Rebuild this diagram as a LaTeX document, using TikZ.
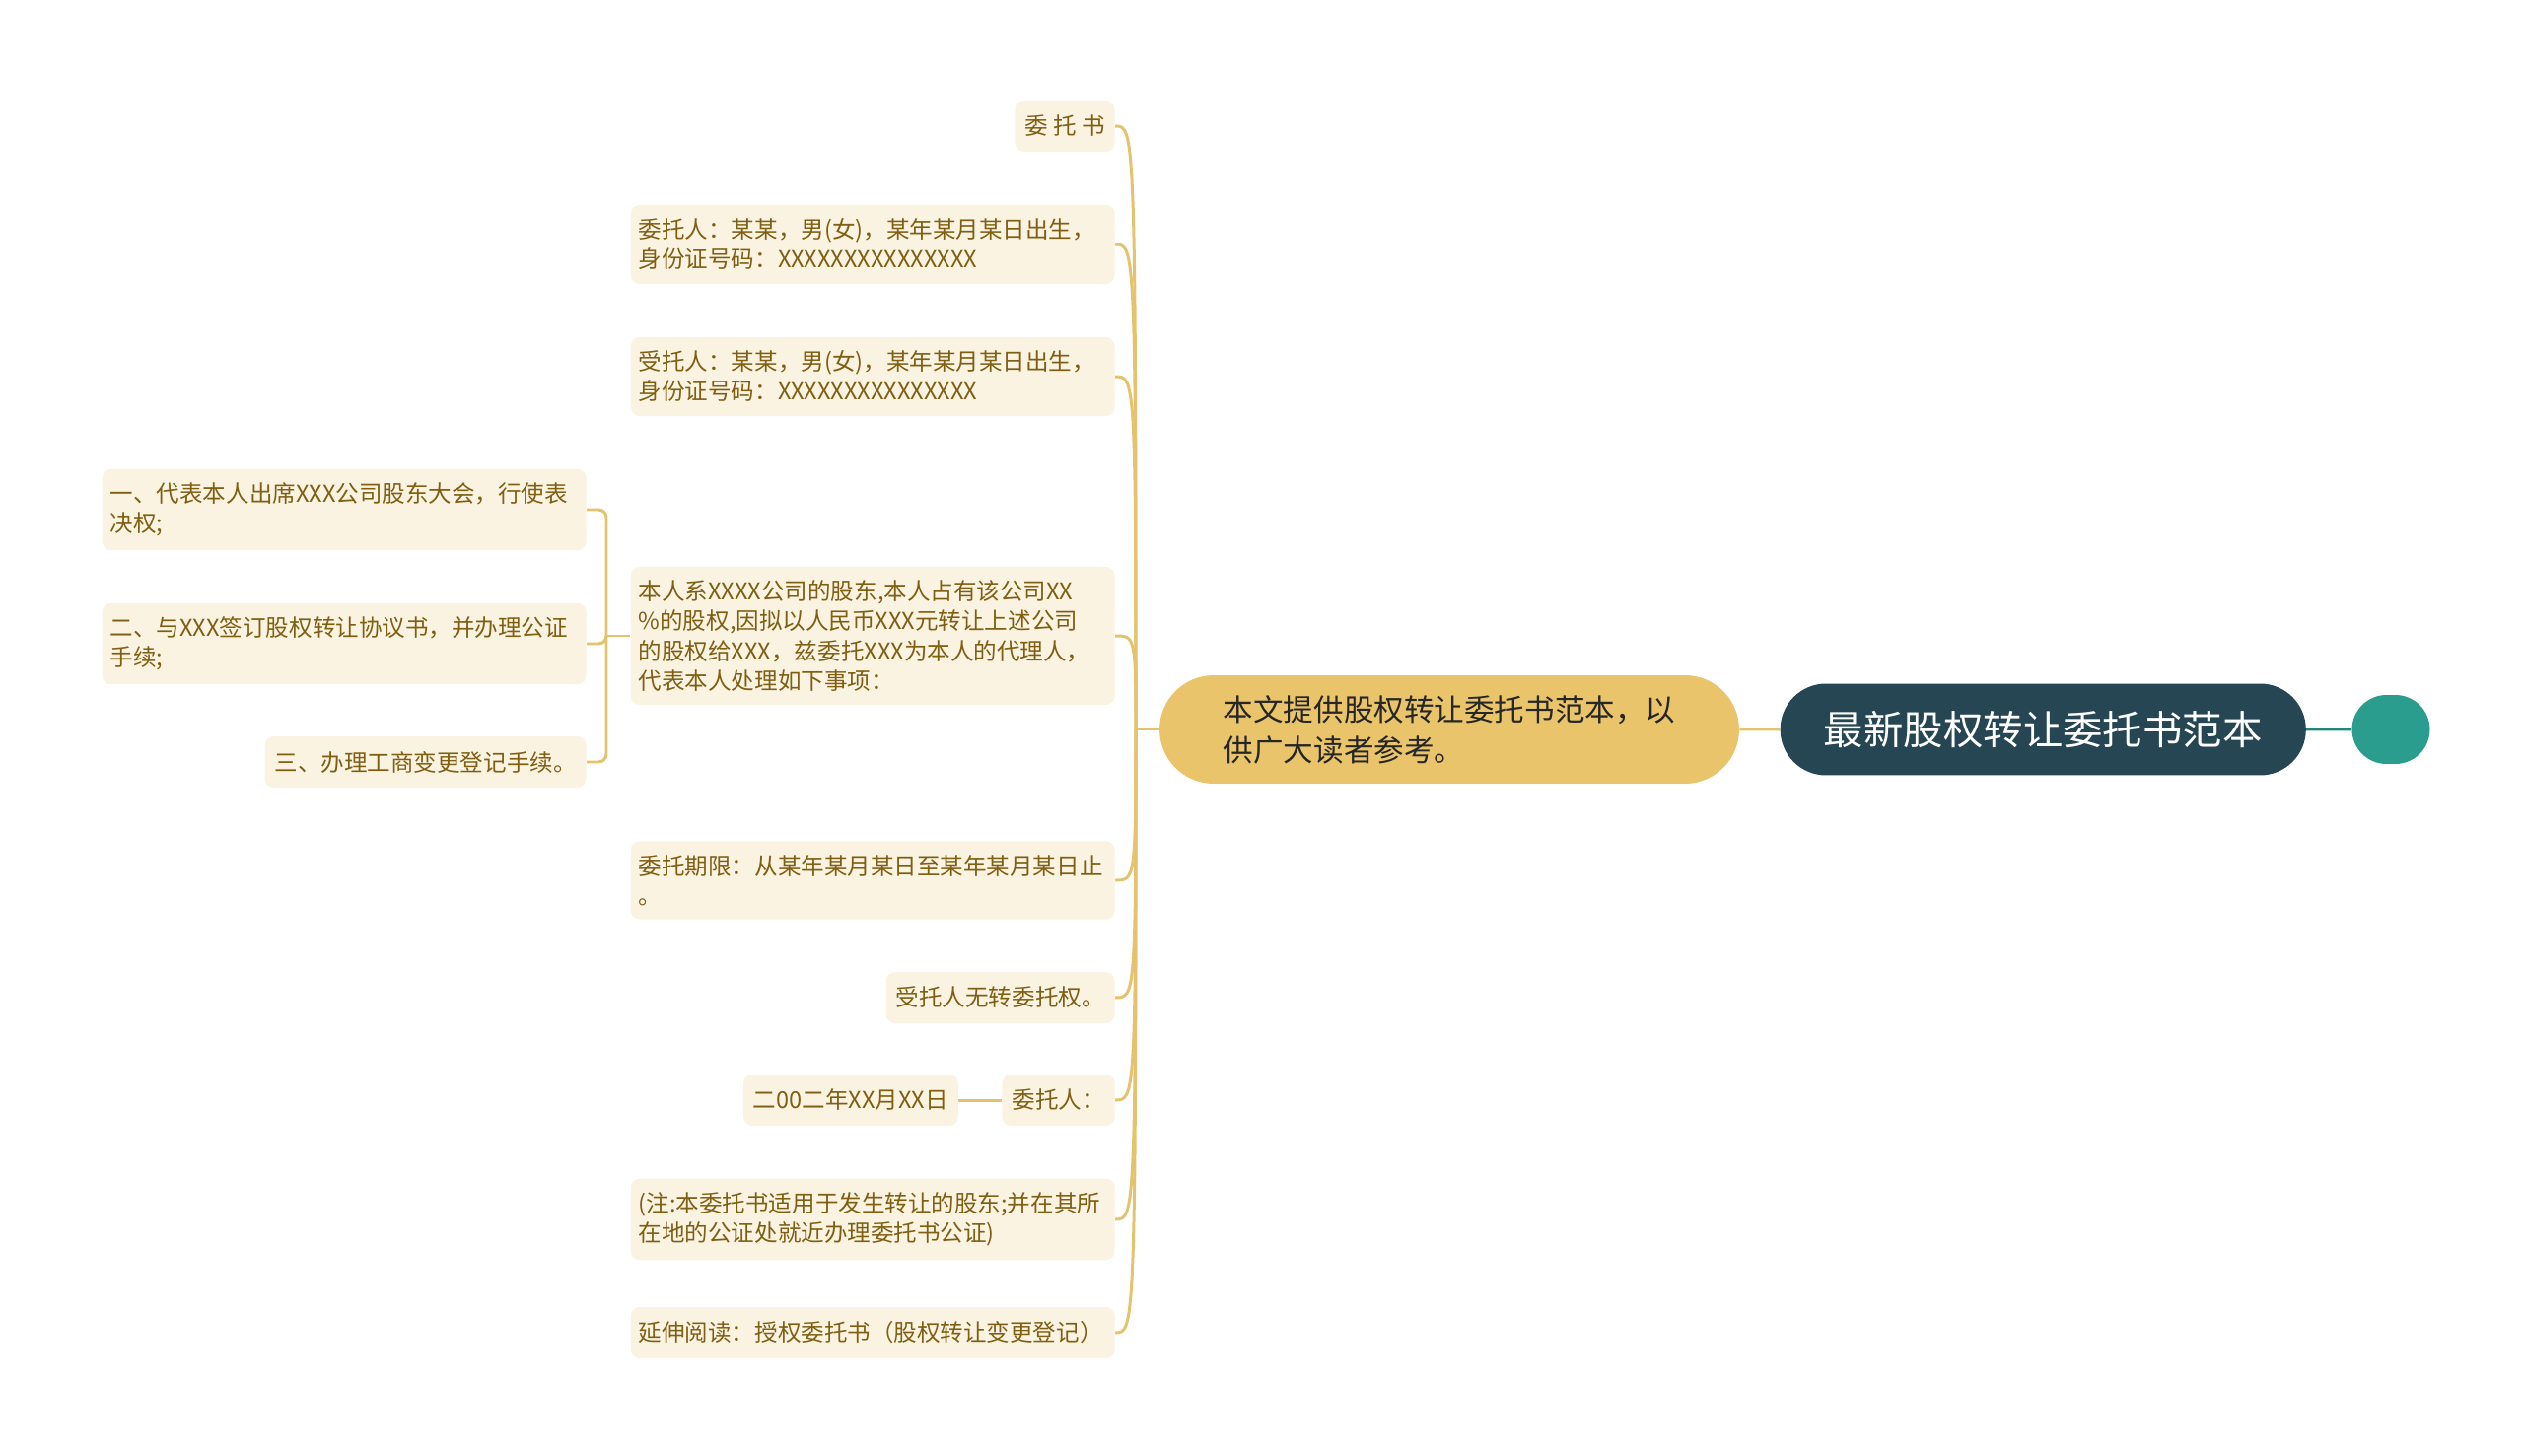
\documentclass[tikz,border=0pt]{standalone}
\usepackage{fontspec}
\usepackage{xcolor}
\usepackage{tikz}
\usetikzlibrary{positioning, shapes.misc, calc}
\newfontfamily\cjk{Noto Sans CJK SC}
\definecolor{leafbg}{HTML}{FAF3E2}
\definecolor{leaftext}{HTML}{7F5F12}
\definecolor{linkcol}{HTML}{E5C36E}
\definecolor{sandy}{HTML}{E9C46A}
\definecolor{darkslate}{HTML}{264653}
\definecolor{tealnode}{HTML}{2A9D8F}

\begin{document}
\begin{tikzpicture}[x=0.02cm, y=-0.02cm, node distance=0.88cm,
        leaf/.style={fill=leafbg, text=leaftext, rounded corners=0.18cm, inner xsep=0.2cm,
          inner ysep=0.28cm, align=left, anchor=east, minimum height=1.04cm,
          font=\cjk\fontsize{13.4}{17.1}\selectfont},
        wide/.style={leaf, inner xsep=0.16cm, text width=9.5cm},
        link/.style={draw=linkcol, line width=1.7pt},
        trunk/.style={to path={.. controls (\tikztostart |- \tikztotarget) and ([xshift=0.4cm]\tikztotarget) .. (\tikztotarget)}}]

      \path[use as bounding box] (0,0) rectangle (2560,1477);

      % centre line
      \node[shape=rounded rectangle, fill=sandy, text=black!85, align=left, inner xsep=0.5cm,
            minimum width=12.76cm, minimum height=2.2cm,
            font=\cjk\fontsize{17.4}{23.3}\selectfont] (intro) at (1470,740)
            {本文提供股权转让委托书范本，以\\供广大读者参考。};
      \node[shape=rounded rectangle, fill=darkslate, text=white, minimum width=10.9cm,
            minimum height=1.86cm, font=\cjk\fontsize{23}{28}\selectfont] (root) [right=0.82cm of intro] {最新股权转让委托书范本};
      \node[shape=rounded rectangle, fill=tealnode, inner sep=0pt, minimum width=1.58cm,
            minimum height=1.4cm] (dot) [right=0.92cm of root] {};

      % right column
      \node[leaf]  (wts)  at (1131,128)  {委 托 书};
      \node[wide]  (wtr)  at (1131,248)  {委托人：某某，男(女)，某年某月某日出生，\\身份证号码：XXXXXXXXXXXXXXX};
      \node[wide]  (str)  at (1131,382)  {受托人：某某，男(女)，某年某月某日出生，\\身份证号码：XXXXXXXXXXXXXXX};
      \node[wide]  (brx)  at (1131,645)  {本人系XXXX公司的股东,本人占有该公司XX\\\%的股权,因拟以人民币XXX元转让上述公司\\的股权给XXX，兹委托XXX为本人的代理人，\\代表本人处理如下事项：};
      \node[wide]  (qx)   at (1131,893)  {委托期限：从某年某月某日至某年某月某日止\\。};
      \node[leaf]  (wzw)  at (1131,1012) {受托人无转委托权。};
      \node[leaf]  (sign) at (1131,1116) {委托人：};
      \node[leaf]  (date) [left=of sign] {二00二年XX月XX日};
      \node[wide]  (note) at (1131,1237) {(注:本委托书适用于发生转让的股东;并在其所\\在地的公证处就近办理委托书公证)};
      \node[wide]  (yd)   at (1131,1352) {延伸阅读：授权委托书（股权转让变更登记）};

      % left column
      \node[wide]  (s1)   at (595,517)   {一、代表本人出席XXX公司股东大会，行使表\\决权;};
      \node[wide]  (s2)   at (595,653)   {二、与XXX签订股权转让协议书，并办理公证\\手续;};
      \node[leaf]  (s3)   at (595,773)   {三、办理工商变更登记手续。};

      \coordinate (hub) at (1152,740);
      \coordinate (sub) at (615,645);

      \path[link] (hub) edge[trunk] (wts.east)
                        edge[trunk] (wtr.east)
                        edge[trunk] (str.east)
                        edge[trunk] (brx.east)
                        edge[trunk] (qx.east)
                        edge[trunk] (wzw.east)
                        edge[trunk] (sign.east)
                        edge[trunk] (note.east)
                        edge[trunk] (yd.east)
                  (hub) edge (intro.west)
                  (intro) edge (root)
                  (sign) edge (date);
      \path[link, rounded corners=0.16cm] (sub) edge[to path={|- (\tikztotarget)}] (s1.east)
                                              edge[to path={|- (\tikztotarget)}] (s2.east)
                                              edge[to path={|- (\tikztotarget)}] (s3.east)
                                        (sub) edge (brx.west);
      \draw[tealnode!85!black, line width=1.7pt] (root) -- (dot);
    \end{tikzpicture}
\end{document}
